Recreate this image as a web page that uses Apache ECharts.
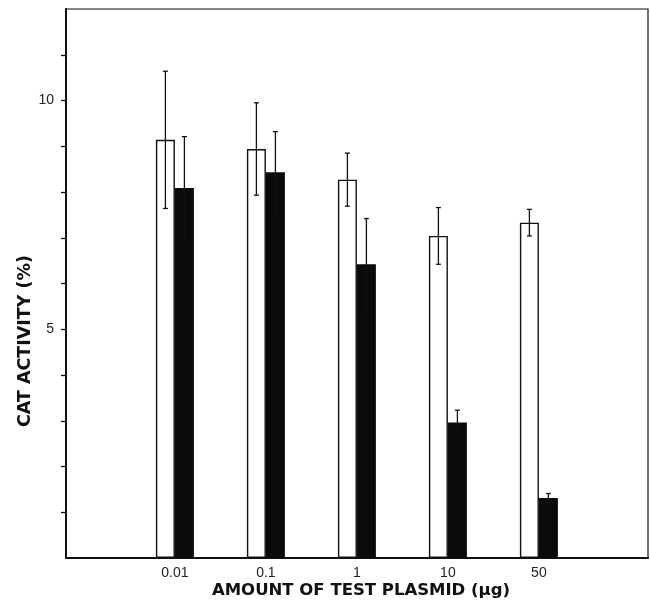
<!DOCTYPE html>
<html>
<head>
<meta charset="utf-8">
<script src="https://cdn.jsdelivr.net/npm/echarts@6/dist/echarts.min.js"></script>
<style>
  html, body { margin: 0; padding: 0; background: #fff; }
  #chart { width: 650px; height: 604px; }
</style>
</head>
<body>
<div id="chart"></div>
<script>
// amounts of test plasmid (ug)
const categories = ['0.01', '0.1', '1', '10', '50'];
// open bars and their error
const openValues = [9.14, 8.94, 8.27, 7.04, 7.33];
const openErrors = [1.5, 1.01, 0.58, 0.62, 0.29];
// filled bars and their error
const filledValues = [8.09, 8.43, 6.42, 2.96, 1.31];
const filledErrors = [1.12, 0.89, 1.0, 0.27, 0.1];
const yTickValues = [1, 2, 3, 4, 5, 6, 7, 8, 9, 10, 11];
const yLabelValues = [5, 10];

(function() {
  let myChart = echarts.init(document.getElementById('chart'))
  const barW = 19
  const ink = '#111'

  // error bar drawer, shift = horizontal offset of the bar from band centre
  function errorBars(shift) {
    return function(params, api) {
      const i = api.value(0)
      const top = api.coord([i, api.value(1) + api.value(2)])
      const bot = api.coord([i, api.value(1) - api.value(2)])
      const x = top[0] + shift
      const cap = 2.5
      const style = { stroke: ink, lineWidth: 1.3 }
      return {
        type: 'group',
        children: [
          { type: 'line', shape: { x1: x, y1: top[1], x2: x, y2: bot[1] }, style: style },
          { type: 'line', shape: { x1: x - cap, y1: top[1], x2: x + cap, y2: top[1] }, style: style },
          { type: 'line', shape: { x1: x - cap, y1: bot[1], x2: x + cap, y2: bot[1] }, style: style }
        ]
      }
    }
  }

  let option = {
    backgroundColor: '#fff',
    animation: false,
    grid: [
      // frame
      { left: 66, right: 2, top: 9, bottom: 46, show: true, borderColor: ink, borderWidth: 1.2 },
      // bars
      { left: 129.4, right: 65.6, top: 9, bottom: 46 }
    ],
    xAxis: [
      {
        gridIndex: 0, type: 'value', min: 0, max: 1,
        axisLine: { show: true, lineStyle: { color: ink, width: 2 } },
        axisTick: { show: false }, axisLabel: { show: false }, splitLine: { show: false }
      },
      {
        gridIndex: 1, type: 'category', data: categories,
        axisLine: { show: false }, axisTick: { show: false },
        axisLabel: { color: '#222', fontSize: 14, fontFamily: 'Liberation Sans', margin: 8 }
      }
    ],
    yAxis: [
      {
        gridIndex: 0, type: 'value', min: 0, max: 12,
        axisLine: { show: true, lineStyle: { color: ink, width: 2 } },
        axisTick: { show: true, length: 5, customValues: yTickValues, lineStyle: { color: ink, width: 1.3 } },
        axisLabel: {
          color: '#222', fontSize: 14, fontFamily: 'Liberation Sans', margin: 12,
          customValues: yLabelValues
        },
        splitLine: { show: false }
      },
      {
        gridIndex: 1, type: 'value', min: 0, max: 12,
        show: false, splitLine: { show: false }
      }
    ],
    series: [
      {
        type: 'bar', xAxisIndex: 1, yAxisIndex: 1,
        data: openValues, barWidth: barW, barGap: '0%',
        itemStyle: { color: '#fff', borderColor: ink, borderWidth: 1.4 }
      },
      {
        type: 'bar', xAxisIndex: 1, yAxisIndex: 1,
        data: filledValues, barWidth: barW,
        itemStyle: { color: '#0b0b0b' }
      },
      {
        type: 'custom', xAxisIndex: 1, yAxisIndex: 1,
        renderItem: errorBars(-barW / 2),
        data: openValues.map(function(v, i) { return [i, v, openErrors[i]] }),
        z: 5
      },
      {
        type: 'custom', xAxisIndex: 1, yAxisIndex: 1,
        renderItem: errorBars(barW / 2),
        data: filledValues.map(function(v, i) { return [i, v, filledErrors[i]] }),
        z: 5
      }
    ],
    graphic: [
      {
        type: 'text', x: 25, y: 341, rotation: Math.PI / 2,
        style: {
          text: 'CAT ACTIVITY (%)', fill: ink, align: 'center', verticalAlign: 'middle',
          font: 'bold 17.5px "DejaVu Sans"'
        }
      },
      {
        type: 'text', x: 361, y: 591,
        style: {
          text: 'AMOUNT OF TEST PLASMID (μg)', fill: ink, align: 'center', verticalAlign: 'middle',
          font: 'bold 16.5px "DejaVu Sans"'
        }
      }
    ]
  }
  myChart.setOption(option);
  window.addEventListener('resize', function() {
    myChart.resize()
  })
})();
</script>
</body>
</html>
